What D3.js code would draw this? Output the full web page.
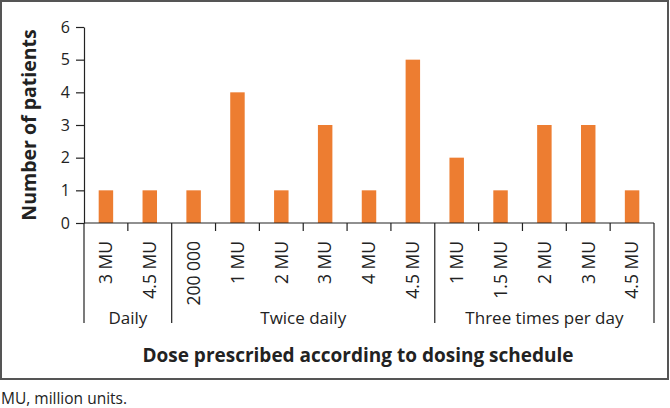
<!DOCTYPE html>
<html><head><meta charset="utf-8">
<script src="https://cdn.jsdelivr.net/npm/d3@7"></script>
<style>body{margin:0;background:#fff}svg{display:block}text{font-family:"Open Sans",sans-serif;fill:#222}</style>
</head><body><svg id="c" width="670" height="408"></svg>
<script>
const groups = ["Daily", "Twice daily", "Three times per day"];
const groupCategories = [
  ["3 MU", "4.5 MU"],
  ["200 000", "1 MU", "2 MU", "3 MU", "4 MU", "4.5 MU"],
  ["1 MU", "1.5 MU", "2 MU", "3 MU", "4.5 MU"]
];
const groupValues = [
  [1, 1],
  [1, 4, 1, 3, 1, 5],
  [2, 1, 3, 3, 1]
];
const yTicks = [0, 1, 2, 3, 4, 5, 6];
const yTitle = "Number of patients";
const xTitle = "Dose prescribed according to dosing schedule";
const note = "MU, million units.";

const rows = [];
groupCategories.forEach((cats, g) => cats.forEach((c, i) => rows.push({key: g + "-" + i, label: c, group: g, value: groupValues[g][i]})));

const svg = d3.select("#c");
const L = 84, R = 654, T = 27, B = 223;
const x = d3.scaleBand().domain(rows.map(d => d.key)).range([L, R]).padding(0);
const y = d3.scaleLinear().domain([0, 6]).range([B, T]);

// frame
svg.append("rect").attr("x", 1).attr("y", 1).attr("width", 667).attr("height", 378)
  .attr("fill", "none").attr("stroke", "#555").attr("stroke-width", 2);

// bars
const bw = x.bandwidth() * 0.33;
svg.append("g").selectAll("rect").data(rows).join("rect")
  .attr("x", d => x(d.key) + x.bandwidth() / 2 - bw / 2)
  .attr("y", d => y(d.value))
  .attr("width", bw)
  .attr("height", d => y(0) - y(d.value))
  .attr("fill", "#ED7D31");

// y axis
const ya = svg.append("g").attr("transform", `translate(${L},0)`)
  .call(d3.axisLeft(y).tickValues(yTicks).tickFormat(d3.format("d")).tickSize(8).tickSizeOuter(0).tickPadding(6));
ya.selectAll("path,line").attr("stroke", "#222").attr("stroke-width", 1.2);
ya.selectAll("text").style("font-size", "16px").attr("fill", "#222").style("font-family", "'Open Sans', sans-serif");

// x axis baseline
svg.append("line").attr("x1", L).attr("x2", R).attr("y1", B).attr("y2", B).attr("stroke", "#222").attr("stroke-width", 1.2);

// ticks between categories and group separators
const starts = [];
let idx = 0;
groupCategories.forEach(c => { starts.push(idx); idx += c.length; });
const keys = rows.map(d => d.key);
keys.forEach((k, i) => {
  const xx = x(k);
  const isGroupStart = starts.includes(i);
  svg.append("line").attr("x1", xx).attr("x2", xx).attr("y1", B).attr("y2", isGroupStart ? 323 : 231)
    .attr("stroke", "#222").attr("stroke-width", 1.2);
});
svg.append("line").attr("x1", R).attr("x2", R).attr("y1", B).attr("y2", 323).attr("stroke", "#222").attr("stroke-width", 1.2);

// category labels
svg.append("g").selectAll("text").data(rows).join("text")
  .attr("transform", d => `translate(${x(d.key) + x.bandwidth() / 2},241) rotate(-90)`)
  .attr("text-anchor", "end").attr("dy", "0.36em")
  .style("font-size", "17.5px").text(d => d.label);

// group labels
groups.forEach((g, gi) => {
  const first = x(keys[starts[gi]]);
  const last = x(keys[starts[gi] + groupCategories[gi].length - 1]) + x.bandwidth();
  svg.append("text").attr("x", (first + last) / 2).attr("y", 324).attr("text-anchor", "middle")
    .style("font-size", "17px").text(g);
});

// titles
svg.append("text").attr("x", 358).attr("y", 362).attr("text-anchor", "middle")
  .style("font-size", "19px").style("font-weight", "bold").text(xTitle);
svg.append("text").attr("transform", "translate(36,125) rotate(-90)").attr("text-anchor", "middle")
  .style("font-size", "19.5px").style("font-weight", "bold").text(yTitle);

svg.append("text").attr("x", 1).attr("y", 404).style("font-size", "15.5px").text(note);
</script></body></html>
